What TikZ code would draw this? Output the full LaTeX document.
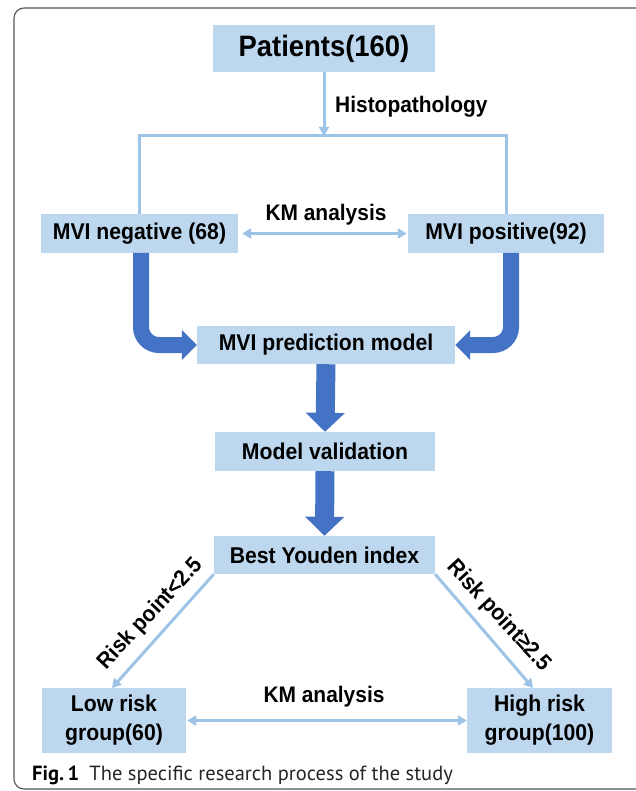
\documentclass[tikz,border=0pt]{standalone}
\usepackage{fontspec}
\setmainfont[FakeStretch=0.93]{Liberation Sans}
\newfontfamily\capfont{PT Sans}
\usetikzlibrary{arrows.meta}
\definecolor{boxblue}{HTML}{BDD7EE}
\definecolor{thinblue}{HTML}{9DC3E6}
\definecolor{thickblue}{HTML}{4472C4}
\definecolor{framegray}{HTML}{555555}
\begin{document}
\begin{tikzpicture}[x=1pt,y=-1pt,
  bx/.style={fill=boxblue, inner sep=0pt, font=\fontsize{22.8}{29}\selectfont\bfseries, align=center},
  thin/.style={draw=thinblue, line width=3pt},
  thinarrow/.style={thin, -{Triangle[length=9pt,width=10pt]}},
  thinboth/.style={thin, {Triangle[length=9pt,width=10pt]}-{Triangle[length=9pt,width=10pt]}},
  thickside/.style={draw=thickblue, line width=16pt, rounded corners=18pt, -{Triangle[length=15pt,width=29pt]}},
  thickdown/.style={draw=thickblue, line width=19pt, -{Triangle[length=19pt,width=38pt]}},
  lbl/.style={font=\fontsize{22.5}{25}\selectfont\bfseries, inner sep=0pt}
]
\useasboundingbox (0,0) rectangle (636,791);
% frame
\draw[framegray, line width=1.1pt, rounded corners=10pt] (14,8) rectangle (648,789);

% nodes
\node[bx, minimum width=222pt, minimum height=47pt, font=\fontsize{29.5}{32}\selectfont\bfseries] (pat) at (324,48.5) {Patients(160)};
\node[bx, minimum width=197pt, minimum height=39pt] (neg) at (139.5,233.5) {MVI negative (68)};
\node[bx, minimum width=196pt, minimum height=39pt] (pos) at (506,233.5) {MVI positive(92)};
\node[bx, minimum width=258pt, minimum height=38pt] (pred) at (326,345) {MVI prediction model};
\node[bx, minimum width=220pt, minimum height=39pt] (val) at (325,451.5) {Model validation};
\node[bx, minimum width=221pt, minimum height=38pt] (you) at (324.5,555) {Best Youden index};
\node[bx, minimum width=144pt, minimum height=65pt] (low) at (114,720.5) {Low risk\\group(60)};
\node[bx, minimum width=145pt, minimum height=65pt] (high) at (539.5,720.5) {High risk\\group(100)};

% coordinates
\coordinate (split) at (324,136);
\coordinate (bl) at (139,136);
\coordinate (br) at (506,136);

% top branching
\draw[thinarrow] (pat.south) -- (split);
\node[lbl, anchor=west] (histo) at (335,107) {Histopathology};
\draw[thin, line cap=rect] (bl) -- (br);
\draw[thin] (bl) -- (bl |- neg.north);
\draw[thin] (br) -- (br |- neg.north);

% KM top
\draw[thinboth] ([xshift=4pt]neg.east) -- ([xshift=-1pt]pos.west);
\node[lbl] (km1) at (326,215) {KM analysis};

% thick side arrows
\draw[thickside] (141,253) |- (pred.west);
\draw[thickside] (511,253) |- (pred.east);

% thick down arrows
\draw[thickdown] (pred.south) -- (val.north);
\draw[thickdown] (val.south) -- (you.north);

% diagonal arrows
\draw[thinarrow] (you.south west) -- (112,688);
\draw[thinarrow] (you.south east) -- (533,688);
\node[lbl, rotate=47] (rl) at (151,614) {Risk point<2.5};
\node[lbl, rotate=-47.5] (rr) at (499,616) {Risk point≥2.5};

% KM bottom
\draw[thinboth] ([xshift=1pt]low.east) -- (high.west);
\node[lbl] (km2) at (324,697) {KM analysis};

% caption
\node[anchor=base west, inner sep=0pt, font=\fontsize{20.5}{24}\selectfont] (cap) at (32,780) {\capfont\bfseries Fig.\,1\hspace{0.5em}\mdseries\color{black!85}The specific research process of the study};
\end{tikzpicture}
\end{document}
